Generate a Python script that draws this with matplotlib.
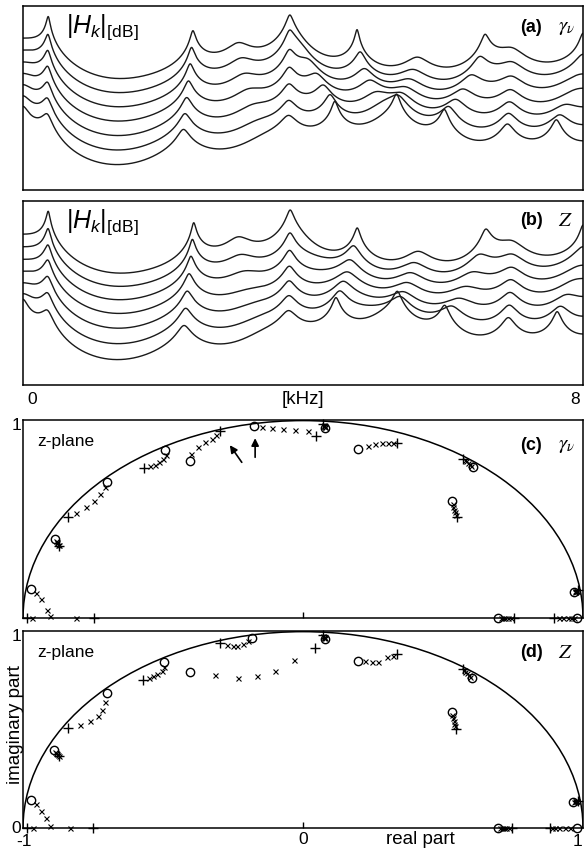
import numpy as np
import matplotlib.pyplot as plt
from matplotlib.patches import Arc

plt.rcParams['font.family'] = ['Liberation Sans', 'DejaVu Sans']
plt.rcParams['mathtext.fontset'] = 'custom'
plt.rcParams['mathtext.rm'] = 'Liberation Sans'
plt.rcParams['mathtext.it'] = 'Liberation Sans:italic'
plt.rcParams['mathtext.bf'] = 'Liberation Sans:bold'

# pole tracks read off the two z-planes, step 0 (o) ... step 6 (+)
# complex value = conjugate pair (upper half shown), tuple = two real poles
gamma_tracks = [
    [-0.970+0.146j, -0.952+0.125j, -0.935+0.094j, -0.913+0.040j, -0.905+0.012j, (-0.968, -0.810), (-0.986, -0.745)],
    [-0.886+0.400j, -0.883+0.392j, -0.880+0.385j, -0.877+0.378j, -0.874+0.372j, -0.872+0.368j, -0.870+0.365j],
    [-0.701+0.690j, -0.707+0.663j, -0.725+0.628j, -0.745+0.595j, -0.775+0.562j, -0.811+0.531j, -0.838+0.514j],
    [-0.494+0.853j, -0.490+0.827j, -0.499+0.805j, -0.513+0.788j, -0.529+0.777j, -0.546+0.768j, -0.568+0.760j],
    [-0.404+0.797j, -0.401+0.832j, -0.374+0.866j, -0.350+0.890j, -0.326+0.907j, -0.309+0.929j, -0.296+0.946j],
    [-0.175+0.971j, -0.148+0.967j, -0.110+0.963j, -0.073+0.958j, -0.029+0.954j, 0.019+0.946j, 0.046+0.924j],
    [0.079+0.963j, 0.078+0.966j, 0.077+0.969j, 0.076+0.972j, 0.075+0.975j, 0.074+0.978j, 0.073+0.982j],
    [0.198+0.858j, 0.233+0.870j, 0.257+0.882j, 0.281+0.887j, 0.305+0.887j, 0.321+0.887j, 0.337+0.887j],
    [0.606+0.763j, 0.601+0.770j, 0.595+0.778j, 0.589+0.786j, 0.583+0.794j, 0.578+0.800j, 0.573+0.806j],
    [0.531+0.594j, 0.534+0.578j, 0.537+0.563j, 0.540+0.549j, 0.543+0.536j, 0.546+0.524j, 0.549+0.514j],
    [0.969+0.133j, 0.971+0.134j, 0.973+0.135j, 0.975+0.136j, 0.977+0.137j, 0.979+0.138j, 0.982+0.140j],
    [(0.698, 0.977), (0.706, 0.968), (0.714, 0.958), (0.722, 0.945), (0.731, 0.930), (0.742, 0.914), (0.754, 0.896)],
]

z_tracks = [
    [-0.973+0.142j, -0.954+0.122j, -0.937+0.088j, -0.919+0.049j, -0.905+0.012j, (-0.963, -0.832), (-0.987, -0.749)],
    [-0.889+0.396j, -0.886+0.389j, -0.883+0.383j, -0.880+0.377j, -0.876+0.371j, -0.873+0.367j, -0.870+0.365j],
    [-0.701+0.687j, -0.707+0.641j, -0.719+0.599j, -0.733+0.569j, -0.761+0.545j, -0.796+0.525j, -0.838+0.509j],
    [-0.496+0.848j, -0.497+0.820j, -0.505+0.800j, -0.520+0.785j, -0.535+0.775j, -0.550+0.765j, -0.570+0.756j],
    [-0.404+0.794j, -0.314+0.777j, -0.233+0.765j, -0.165+0.772j, -0.100+0.802j, -0.032+0.856j, 0.043+0.916j],
    [-0.181+0.968j, -0.198+0.950j, -0.215+0.937j, -0.235+0.925j, -0.251+0.927j, -0.273+0.934j, -0.296+0.942j],
    [0.079+0.963j, 0.077+0.966j, 0.076+0.969j, 0.075+0.972j, 0.074+0.975j, 0.072+0.978j, 0.071+0.982j],
    [0.198+0.853j, 0.221+0.849j, 0.245+0.848j, 0.269+0.845j, 0.299+0.870j, 0.321+0.878j, 0.337+0.886j],
    [0.602+0.763j, 0.597+0.771j, 0.592+0.779j, 0.586+0.788j, 0.580+0.797j, 0.575+0.804j, 0.570+0.810j],
    [0.531+0.590j, 0.533+0.575j, 0.536+0.560j, 0.538+0.546j, 0.540+0.532j, 0.543+0.518j, 0.545+0.506j],
    [0.966+0.134j, 0.969+0.135j, 0.971+0.136j, 0.974+0.137j, 0.976+0.138j, 0.979+0.139j, 0.982+0.140j],
    [(0.698, 0.980), (0.705, 0.955), (0.711, 0.935), (0.718, 0.915), (0.726, 0.900), (0.735, 0.891), (0.745, 0.882)],
]

n_steps = 7
f_max = 8.0                      # kHz
f_khz = np.linspace(0, f_max, 1600)
offset_db = 9.0                  # vertical shift between stacked spectra


def step_poles(tracks, step):
    poles = []
    for tr in tracks:
        p = tr[step]
        if isinstance(p, tuple):
            poles += list(p)
        else:
            poles += [p, np.conj(p)]
    return poles


def spectrum_db(poles):
    zinv = np.exp(-1j * np.pi * f_khz / f_max)
    a = np.ones_like(zinv)
    for q in poles:
        a = a * (1 - q * zinv)
    return -20 * np.log10(np.abs(a))


def draw_spectra(ax, tracks):
    curves = []
    for k in range(n_steps):
        db = spectrum_db(step_poles(tracks, k))
        curves.append(db - db.mean() + k * offset_db)
    for c in curves:
        ax.plot(f_khz, c, color='#1a1a1a', lw=1.0)
    lo = min(c.min() for c in curves)
    hi = max(c.max() for c in curves)
    ax.set_xlim(0, f_max)
    ax.set_ylim(lo - 0.17 * (hi - lo), hi + 0.06 * (hi - lo))
    ax.set_xticks([])
    ax.set_yticks([])
    ax.text(0.077, 0.965, r'$|H_k|_{\mathrm{[dB]}}$', transform=ax.transAxes,
            fontsize=18, va='top', ha='left')


def draw_zplane(ax, tracks):
    ax.add_patch(Arc((0, 0), 2, 2, theta1=0, theta2=180, lw=1.1, color='k'))
    for tr in tracks:
        for step, p in enumerate(tr):
            if isinstance(p, tuple):
                xs, ys = list(p), [0, 0]
            else:
                xs, ys = [p.real], [p.imag]
            if step == 0:
                ax.plot(xs, ys, 'o', mfc='none', mec='k', ms=6, mew=1.0, clip_on=False)
            elif step == n_steps - 1:
                ax.plot(xs, ys, '+', color='k', ms=6.5, mew=1.0, clip_on=False)
            else:
                ax.plot(xs, ys, 'x', color='k', ms=3.6, mew=0.8, clip_on=False)
    ax.set_xlim(-1, 1)
    ax.set_ylim(0, 1.003)
    ax.set_xticks([0])
    ax.set_xticklabels([])
    ax.tick_params(axis='x', direction='in', length=4, width=1)
    ax.set_yticks([])
    ax.text(0.025, 0.89, 'z-plane', transform=ax.transAxes, fontsize=12.5,
            va='center', ha='left')
    ax.text(-0.011, 0.972, '1', transform=ax.transAxes, fontsize=12.5,
            va='center', ha='center')


def panel_tag(ax, tag, sym, y):
    ax.text(0.888, y, tag, transform=ax.transAxes, fontsize=13,
            fontweight='bold', va='center', ha='left')
    ax.text(0.955, y, sym, transform=ax.transAxes, fontsize=15,
            va='center', ha='left', math_fontfamily='stix')


fig = plt.figure(figsize=(5.84, 8.49), dpi=100)
ax_a = fig.add_axes([0.0394, 0.7762, 0.9589, 0.2167])
ax_b = fig.add_axes([0.0394, 0.5465, 0.9589, 0.2167])
ax_c = fig.add_axes([0.0394, 0.2721, 0.9589, 0.2332])
ax_d = fig.add_axes([0.0394, 0.0247, 0.9589, 0.2320])

for ax in (ax_a, ax_b, ax_c, ax_d):
    for s in ax.spines.values():
        s.set_linewidth(1.1)

draw_spectra(ax_a, gamma_tracks)
draw_spectra(ax_b, z_tracks)
panel_tag(ax_a, '(a)', r'$\gamma_\nu$', 0.885)
panel_tag(ax_b, '(b)', r'$Z$', 0.895)

ax_b.text(0.007, -0.076, '0', transform=ax_b.transAxes, fontsize=12.5,
          va='center', ha='left')
ax_b.text(0.5, -0.076, '[kHz]', transform=ax_b.transAxes, fontsize=13.5,
          va='center', ha='center')
ax_b.text(0.995, -0.076, '8', transform=ax_b.transAxes, fontsize=12.5,
          va='center', ha='right')

draw_zplane(ax_c, gamma_tracks)
draw_zplane(ax_d, z_tracks)
panel_tag(ax_c, '(c)', r'$\gamma_\nu$', 0.87)
panel_tag(ax_d, '(d)', r'$Z$', 0.893)

# arrows in (c)
arrow = dict(arrowstyle='-|>', color='k', lw=1.2, mutation_scale=11)
ax_c.annotate('', xy=(-0.267, 0.887), xytext=(-0.213, 0.777), arrowprops=arrow)
ax_c.annotate('', xy=(-0.171, 0.925), xytext=(-0.171, 0.800), arrowprops=arrow)

ax_d.text(-0.013, -0.003, '0', transform=ax_d.transAxes, fontsize=12.5,
          va='center', ha='center')
ax_d.text(0.002, -0.066, '-1', transform=ax_d.transAxes, fontsize=12.5,
          va='center', ha='center')
ax_d.text(0.5, -0.058, '0', transform=ax_d.transAxes, fontsize=12.5,
          va='center', ha='center')
ax_d.text(0.991, -0.066, '1', transform=ax_d.transAxes, fontsize=12.5,
          va='center', ha='center')
ax_d.text(0.709, -0.058, 'real part', transform=ax_d.transAxes, fontsize=13.5,
          va='center', ha='center')
fig.text(0.027, 0.146, 'imaginary part', rotation=90, fontsize=13.5,
         va='center', ha='center')

fig.savefig('out.png', dpi=100)
